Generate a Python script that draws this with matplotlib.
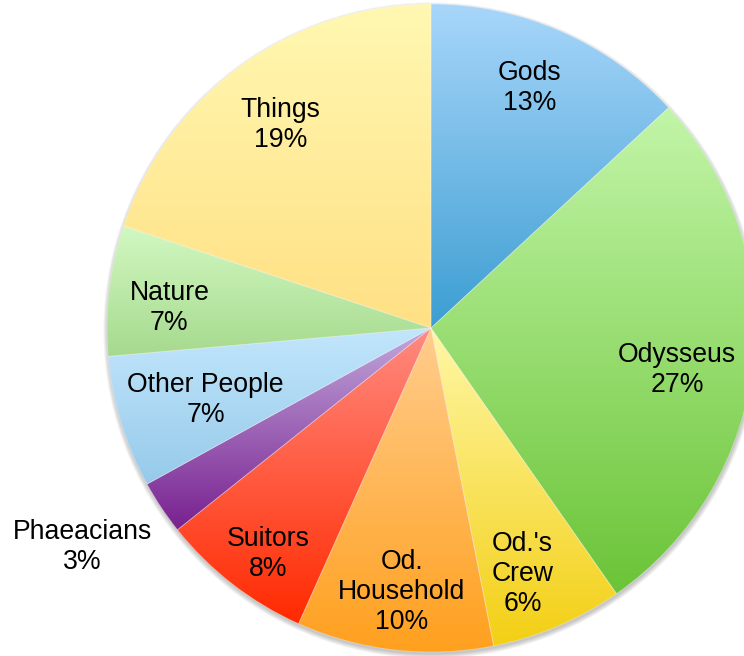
import numpy as np
import matplotlib
matplotlib.use("Agg")
import matplotlib.pyplot as plt
from matplotlib.colors import to_rgb
from matplotlib.patches import Circle

# Data (clockwise from 12 o'clock)
labels = ["Gods", "Odysseus", "Od.'s\nCrew", "Od.\nHousehold", "Suitors",
          "Phaeacians", "Other People", "Nature", "Things"]
# slice sizes
shares = [13.1, 27.2, 6.6, 9.8, 7.6, 2.7, 6.6, 6.5, 19.9]
# percentages as printed on the chart
pct_text = [13, 27, 6, 10, 8, 3, 7, 7, 19]

# gradient colours per slice (top -> bottom)
top_colors = ["#a8d6fa", "#c2f5a8", "#fff7a6", "#ffcd8e", "#ff8a80",
              "#c2a8dc", "#c2e6fc", "#d2f8c2", "#fff8b2"]
bottom_colors = ["#3c9ed2", "#6bc437", "#f3cf14", "#ffa01e", "#ff2a00",
                 "#78208f", "#96caea", "#a6da8e", "#ffe084"]

# label placement: (fraction of radius, angle tweak in degrees)
label_pos = [(0.80, 1.3), (0.77, -3.6), (0.81, -2.6), (0.82, 0.2), (0.86, 2.1),
             (1.27, -1.5), (0.73, 0.8), (0.81, 2.3), (0.78, 0.7)]

W, H = 744, 656
cx, cy, R = 431, 328, 324

fig = plt.figure(figsize=(W / 100, H / 100), dpi=100, facecolor="white")
ax = fig.add_axes([0, 0, 1, 1])

# soft drop shadow, mostly below the pie
for i in range(5):
    ax.add_patch(Circle((cx + 0.5, cy - 2.5), R + 4 - i, color="#505050",
                        alpha=0.07, lw=0, zorder=0))

wedges, _ = ax.pie(shares, startangle=90, counterclock=False, radius=R,
                   center=(cx, cy), frame=True,
                   wedgeprops=dict(facecolor="none", edgecolor="none"))

for w, c0, c1 in zip(wedges, top_colors, bottom_colors):
    ext = w.get_path().get_extents()
    t = np.linspace(0, 1, 256)[:, None, None]
    grad = (1 - t) * np.array(to_rgb(c0)) + t * np.array(to_rgb(c1))
    im = ax.imshow(grad, extent=[ext.x0, ext.x1, ext.y0, ext.y1],
                   origin="upper", aspect="auto", interpolation="bilinear",
                   zorder=1)
    im.set_clip_path(w)
    w.set_edgecolor((1, 1, 1, 0.3))
    w.set_linewidth(0.6)
    w.set_zorder(2)

for w, lab, p, (d, da) in zip(wedges, labels, pct_text, label_pos):
    mid = np.deg2rad((w.theta1 + w.theta2) / 2 + da)
    x = cx + d * R * np.cos(mid)
    y = cy + d * R * np.sin(mid)
    ax.text(x, y, f"{lab}\n{p}%", ha="center", va="center", fontsize=19.2,
            family=["Liberation Sans", "DejaVu Sans"], color="black",
            linespacing=1.22, zorder=5)

ax.set_xlim(0, W)
ax.set_ylim(0, H)
ax.set_aspect("auto")
ax.axis("off")

fig.savefig("out.png", dpi=100, facecolor="white")
